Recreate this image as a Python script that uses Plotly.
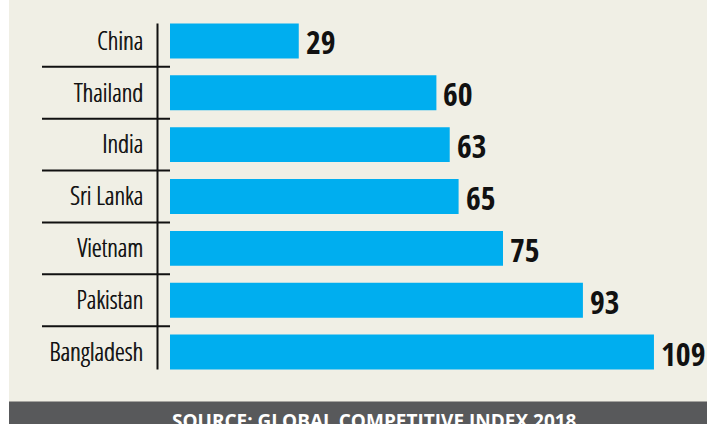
import plotly.graph_objects as go

countries = ["China", "Thailand", "India", "Sri Lanka", "Vietnam", "Pakistan", "Bangladesh"]
ranks = [29, 60, 63, 65, 75, 93, 109]
source_text = "SOURCE: GLOBAL COMPETITIVE INDEX 2018"

W, H = 707, 424
L, R, T, B = 170, 0, 14.5, 45.5
PW, PH = W - L - R, H - T - B

BEIGE = "#f0efe5"
BLUE = "#00aeef"
GRAY = "#58595b"
INK = "#111111"
COND = "Open Sans Condensed, Roboto Condensed, Liberation Sans Narrow, DejaVu Sans Condensed, sans-serif"
COND_LIGHT = "Open Sans Condensed Light, Roboto Condensed, Liberation Sans Narrow, Open Sans Condensed, DejaVu Sans Condensed, sans-serif"

def px_x(p):
    return (p - L) / PW

def px_y(p):
    return (H - B - p) / PH

fig = go.Figure()
fig.add_trace(go.Bar(
    x=ranks, y=list(range(len(countries))), orientation="h",
    marker=dict(color=BLUE, line=dict(width=0)),
    hoverinfo="skip",
))

annotations = []
for i, v in enumerate(ranks):
    annotations.append(dict(
        x=v, y=i, xref="x", yref="y", text=str(v), showarrow=False,
        xanchor="left", yanchor="middle", xshift=5, yshift=-1,
        font=dict(family=COND, size=32, color=INK, weight="bold"),
    ))
annotations.append(dict(
    x=px_x(374), y=px_y(421.5), xref="paper", yref="paper", text=f"<b>{source_text}</b>",
    showarrow=False, xanchor="center", yanchor="middle",
    font=dict(family="Open Sans, sans-serif", size=19, color="white"),
))

shapes = [
    dict(type="rect", xref="paper", yref="paper", x0=px_x(-5), x1=px_x(9),
         y0=px_y(H + 5), y1=px_y(-5), fillcolor="white", line=dict(width=0), layer="below"),
    dict(type="rect", xref="paper", yref="paper", x0=px_x(9), x1=px_x(W + 5),
         y0=px_y(H + 5), y1=px_y(402), fillcolor=GRAY, line=dict(width=0), layer="below"),
]
half = 35 / 52 / 2
shapes.append(dict(type="line", xref="paper", yref="y",
                   x0=px_x(157.5), x1=px_x(157.5), y0=-half, y1=len(countries) - 1 + half,
                   line=dict(color=INK, width=2)))
for i in range(len(countries) - 1):
    shapes.append(dict(type="line", xref="paper", yref="y",
                       x0=px_x(42), x1=px_x(170), y0=i + 0.5, y1=i + 0.5,
                       line=dict(color=INK, width=2)))

fig.update_layout(
    width=W, height=H, margin=dict(l=L, r=R, t=T, b=B, pad=0),
    paper_bgcolor=BEIGE, plot_bgcolor=BEIGE,
    bargap=1 - 35 / 52, showlegend=False,
    xaxis=dict(range=[0, PW / 4.44], visible=False, fixedrange=True),
    yaxis=dict(range=[len(countries) - 0.5, -0.5], tickmode="array",
               tickvals=list(range(len(countries))), ticktext=countries,
               ticks="", showgrid=False, zeroline=False, showline=False,
               ticklabelstandoff=26,
               tickfont=dict(family=COND_LIGHT, size=25, color=INK, weight=300,
                             shadow="0.6px 0 0 #111111")),
    annotations=annotations, shapes=shapes,
)

fig.write_html("out.html")
